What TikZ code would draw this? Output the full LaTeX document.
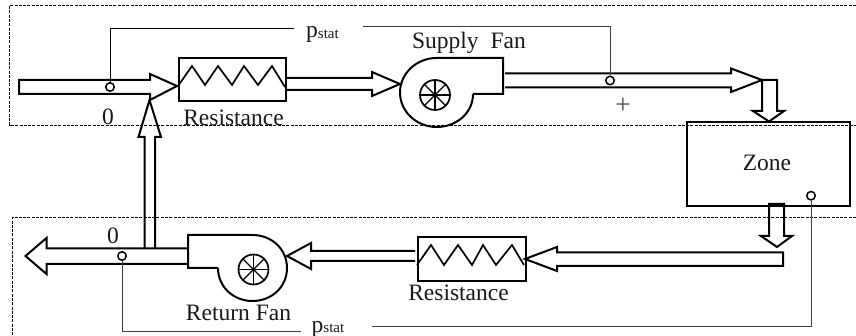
\documentclass[tikz,border=0pt]{standalone}
\usepackage{fontspec}
\setmainfont{Liberation Serif}
\tikzset{
  x=1pt,y=-1pt,
  duct/.style={draw=black,line width=2pt,line join=miter,miter limit=4},
  unit/.style={draw=black,line width=2pt},
  coil/.style={draw=black,line width=1.7pt,line join=miter},
  bound/.style={draw=black,line width=0.9pt,dash pattern=on 3pt off 1.3pt},
  sig/.style={draw=black!75,line width=1pt},
  sensor/.style={circle,draw=black,line width=1.5pt,fill=white,minimum size=8.5pt,inner sep=0pt},
  lab/.style={font=\fontsize{23.5}{26}\selectfont,inner sep=0pt,anchor=base,text=black!90},
  plab/.style={font=\fontsize{23.5}{26}\selectfont,inner sep=0pt,anchor=base west,text=black!90},
}
\newcommand{\pstatlabel}{p\raisebox{-0.5pt}{\fontsize{15}{16}\selectfont stat}}
\begin{document}
\begin{tikzpicture}
\useasboundingbox (0,0) rectangle (856,336);
% boundaries
\path[bound] (856,5.5) -- (9.5,5.5) -- (9.5,125) -- (856,125);
\path[bound] (856,217) -- (12.5,217) -- (12.5,336);
% resistances and zone
\node[unit,minimum width=107pt,minimum height=43pt,inner sep=0pt,anchor=north west] (r1) at (178,57) {};
\node[unit,minimum width=107.5pt,minimum height=43.5pt,inner sep=0pt,anchor=north west] (r2) at (417,236.5) {};
\node[unit,minimum width=163pt,minimum height=84pt,inner sep=0pt,anchor=north west] (zone) at (686,121) {};
\path[coil] (178,86) -- (192,66) -- (205,85) -- (218,66) -- (232,85) -- (244,66) -- (258,85) -- (272,66) -- (285,87);
\path[coil] (417,265) -- (431,245) -- (444,265) -- (458,245) -- (472,265) -- (483,245) -- (496,265) -- (512,245) -- (524,265);
% ducts
\path[duct] (19,80) -- (150,80) -- (150,74) -- (177,86) -- (150,100) -- (150,94) -- (19,94) -- cycle;
\path[duct] (286,78) -- (372,78) -- (372,72) -- (400,84) -- (372,96) -- (372,90) -- (286,90);
\path[duct] (505,73.5) -- (731,73.5) -- (731,68.5) -- (762,80) -- (731,92) -- (731,87.5) -- (505,87.5);
\path[duct] (762,80) -- (777,80) -- (777,111) -- (784,111) -- (769,121.5) -- (753,111) -- (762,111) -- cycle;
\path[duct] (769,204) -- (784,204) -- (784,236) -- (792,236) -- (777,247) -- (761,236) -- (769,236) -- cycle;
\path[duct] (783,252.5) -- (557,252.5) -- (557,247) -- (525,259) -- (557,271) -- (557,266) -- (783,266) -- cycle;
\path[duct] (415,251) -- (311,251) -- (311,243) -- (287,256) -- (311,269) -- (311,261) -- (415,261);
\path[duct] (188,248.5) -- (46.5,248.5) -- (46.5,238) -- (25.5,256) -- (46.5,274) -- (46.5,264) -- (188,264);
\path[duct] (144.5,248.5) -- (144.5,137) -- (138.5,137) -- (149.5,100) -- (161,137) -- (155,137) -- (155,248.5);
% supply fan
\path[unit,line join=miter] (473,94) -- (503,94) -- (503,58) -- (436.5,58)
  .. controls (416.6,58) and (400,73.4) .. (400,92.5)
  .. controls (400,111.6) and (416.6,127) .. (436.5,127)
  .. controls (456.4,127) and (473,113) .. (473,94);
\node[circle,draw=black,line width=1.7pt,minimum size=30pt,inner sep=0pt] (h1) at (435,95) {};
\foreach \a in {0,45,...,315} \draw[line width=1.1pt] (h1.center) -- (h1.\a);
% return fan
\path[unit,line join=miter] (218,268) -- (188,268) -- (188,235) -- (252.5,235)
  .. controls (271.5,235) and (287,249) .. (287,268)
  .. controls (287,287) and (271.5,301) .. (252.5,301)
  .. controls (233.5,301) and (218,287) .. (218,268);
\node[circle,draw=black,line width=1.7pt,minimum size=30pt,inner sep=0pt] (h2) at (253.5,269.5) {};
\foreach \a in {0,45,...,315} \draw[line width=1.1pt] (h2.center) -- (h2.\a);
% sensors
\node[sensor] (s1) at (110,87) {};
\node[sensor] (s2) at (610,80.5) {};
\node[sensor] (s3) at (811,195.7) {};
\node[sensor] (s4) at (122,256) {};
% labels
\node[plab] (p1) at (306,38) {\pstatlabel};
\node[plab] (p2) at (311.5,332) {\pstatlabel};
\node[lab] (t0a) at (108,125) {0};
\node[lab] (t0b) at (113,244) {0};
\node[lab,text=black!70,font=\fontsize{27}{28}\selectfont] (tplus) at (623,113.5) {+};
\node[lab] (tr1) at (233.5,126) {Resistance};
\node[lab] (tr2) at (458.5,300.5) {Resistance};
\node[lab] (tsf) at (469,49) {Supply\hspace{6pt} Fan};
\node[lab] (trf) at (238.5,320) {Return Fan};
\node[lab] (tz) at (767,170.5) {Zone};
% signal lines
\coordinate (c1) at (294,29);
\coordinate (c2) at (363,27);
\coordinate (c3) at (301,331);
\coordinate (c4) at (372,327);
\path[sig,draw=black] (s1.north) |- (c1);
\path[sig] (s2.north) |- (c2);
\path[sig] (s4.south) |- (c3);
\path[sig] (s3.south) |- (c4);
\end{tikzpicture}
\end{document}
